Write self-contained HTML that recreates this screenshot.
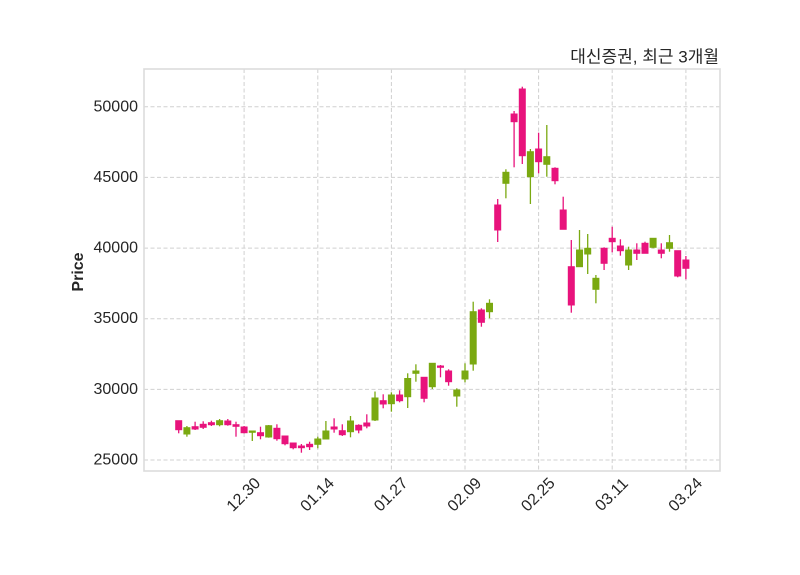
<!DOCTYPE html>
<html><head><meta charset="utf-8"><style>
html,body{margin:0;padding:0;background:#fff;}
svg{display:block;}
.p{fill:#e8137c;stroke:#e8137c;}
.g{fill:#7aa911;stroke:#7aa911;}
.wp{stroke:#e8137c;stroke-width:1.3;}
.wg{stroke:#7aa911;stroke-width:1.3;}
.grid{stroke:#d0d0d0;stroke-width:1;stroke-dasharray:4,2.5;}
text{font-family:"Liberation Sans","Noto Sans CJK KR",sans-serif;fill:#262626;}
</style></head><body>
<svg width="800" height="575" viewBox="0 0 800 575" xmlns="http://www.w3.org/2000/svg">
<rect width="800" height="575" fill="#fff"/>
<g class="grid">
<line x1="144" x2="720" y1="106.8" y2="106.8"/>
<line x1="144" x2="720" y1="177.4" y2="177.4"/>
<line x1="144" x2="720" y1="248.1" y2="248.1"/>
<line x1="144" x2="720" y1="318.7" y2="318.7"/>
<line x1="144" x2="720" y1="389.4" y2="389.4"/>
<line x1="144" x2="720" y1="460" y2="460"/>
<line x1="244.1" x2="244.1" y1="69" y2="471"/>
<line x1="317.8" x2="317.8" y1="69" y2="471"/>
<line x1="391.4" x2="391.4" y1="69" y2="471"/>
<line x1="465" x2="465" y1="69" y2="471"/>
<line x1="538.6" x2="538.6" y1="69" y2="471"/>
<line x1="612.2" x2="612.2" y1="69" y2="471"/>
<line x1="685.9" x2="685.9" y1="69" y2="471"/>
</g>
<rect x="144" y="69" width="576" height="402" fill="none" stroke="#dcdcdc" stroke-width="1.6"/>

<g>
<line class="wp" x1="178.7" x2="178.7" y1="420.7" y2="433.3"/><rect class="p" x="175.7" y="420.7" width="6" height="9"/>
<line class="wg" x1="186.9" x2="186.9" y1="426" y2="436.7"/><rect class="g" x="183.9" y="427.7" width="6" height="6.3"/>
<line class="wp" x1="195.1" x2="195.1" y1="421.7" y2="430"/><rect class="p" x="192.1" y="426.7" width="6" height="2.3"/>
<line class="wp" x1="203.2" x2="203.2" y1="421.3" y2="429"/><rect class="p" x="200.2" y="424.3" width="6" height="3"/>
<line class="wp" x1="211.4" x2="211.4" y1="420.7" y2="426"/><rect class="p" x="208.4" y="422.7" width="6" height="2"/>
<line class="wg" x1="219.6" x2="219.6" y1="419" y2="426.3"/><rect class="g" x="216.6" y="420.7" width="6" height="4"/>
<line class="wp" x1="227.8" x2="227.8" y1="419" y2="425.7"/><rect class="p" x="224.8" y="421" width="6" height="3.7"/>
<line class="wp" x1="236" x2="236" y1="421.7" y2="436.7"/><rect class="p" x="233" y="424.7" width="6" height="1.6"/>
<line class="wp" x1="244.1" x2="244.1" y1="426" y2="433.3"/><rect class="p" x="241.1" y="427" width="6" height="5.7"/>
<line class="wg" x1="252.3" x2="252.3" y1="431" y2="441"/><rect class="g" x="249.3" y="431" width="6" height="1.3"/>
<line class="wp" x1="260.5" x2="260.5" y1="426.7" y2="439.3"/><rect class="p" x="257.5" y="432.7" width="6" height="3"/>
<line class="wg" x1="268.7" x2="268.7" y1="425" y2="437.7"/><rect class="g" x="265.7" y="425.7" width="6" height="11.3"/>
<line class="wp" x1="276.9" x2="276.9" y1="424.3" y2="440.7"/><rect class="p" x="273.9" y="428.3" width="6" height="10.4"/>
<line class="wp" x1="285" x2="285" y1="436" y2="445.3"/><rect class="p" x="282" y="436" width="6" height="7.7"/>
<line class="wp" x1="293.2" x2="293.2" y1="443" y2="449.3"/><rect class="p" x="290.2" y="443" width="6" height="4.7"/>
<line class="wp" x1="301.4" x2="301.4" y1="444" y2="452.7"/><rect class="p" x="298.4" y="446" width="6" height="1.7"/>
<line class="wp" x1="309.6" x2="309.6" y1="441.7" y2="450"/><rect class="p" x="306.6" y="444.3" width="6" height="2.4"/>
<line class="wg" x1="317.8" x2="317.8" y1="436.7" y2="448.3"/><rect class="g" x="314.8" y="439" width="6" height="5.3"/>
<line class="wg" x1="325.9" x2="325.9" y1="421" y2="439"/><rect class="g" x="322.9" y="431" width="6" height="8"/>
<line class="wp" x1="334.1" x2="334.1" y1="418.3" y2="432.7"/><rect class="p" x="331.1" y="427" width="6" height="2"/>
<line class="wp" x1="342.3" x2="342.3" y1="424.3" y2="436"/><rect class="p" x="339.3" y="430.7" width="6" height="4"/>
<line class="wg" x1="350.5" x2="350.5" y1="416" y2="437.3"/><rect class="g" x="347.5" y="421" width="6" height="10.7"/>
<line class="wp" x1="358.7" x2="358.7" y1="424.3" y2="433.3"/><rect class="p" x="355.7" y="425.3" width="6" height="4.7"/>
<line class="wp" x1="366.8" x2="366.8" y1="414.3" y2="428.3"/><rect class="p" x="363.8" y="423" width="6" height="3"/>
<line class="wg" x1="375" x2="375" y1="391.5" y2="421"/><rect class="g" x="372" y="398" width="6" height="22"/>
<line class="wp" x1="383.2" x2="383.2" y1="394.3" y2="408.3"/><rect class="p" x="380.2" y="400.7" width="6" height="3.3"/>
<line class="wg" x1="391.4" x2="391.4" y1="392.3" y2="411.7"/><rect class="g" x="388.4" y="395" width="6" height="8.7"/>
<line class="wp" x1="399.6" x2="399.6" y1="390.3" y2="402.3"/><rect class="p" x="396.6" y="395" width="6" height="5.7"/>
<line class="wg" x1="407.7" x2="407.7" y1="373.3" y2="408"/><rect class="g" x="404.7" y="378.5" width="6" height="18.2"/>
<line class="wg" x1="415.9" x2="415.9" y1="364.3" y2="381.7"/><rect class="g" x="412.9" y="371" width="6" height="2.3"/>
<line class="wp" x1="424.1" x2="424.1" y1="377.3" y2="402.3"/><rect class="p" x="421.1" y="377.3" width="6" height="21"/>
<line class="wg" x1="432.3" x2="432.3" y1="363.3" y2="389"/><rect class="g" x="429.3" y="363.3" width="6" height="23.4"/>
<line class="wp" x1="440.5" x2="440.5" y1="365" y2="377.3"/><rect class="p" x="437.5" y="366" width="6" height="1.3"/>
<line class="wp" x1="448.6" x2="448.6" y1="369.3" y2="385.7"/><rect class="p" x="445.6" y="371" width="6" height="10.7"/>
<line class="wg" x1="456.8" x2="456.8" y1="388.3" y2="406.7"/><rect class="g" x="453.8" y="390" width="6" height="6"/>
<line class="wg" x1="465" x2="465" y1="363.3" y2="382.3"/><rect class="g" x="462" y="371" width="6" height="8"/>
<line class="wg" x1="473.2" x2="473.2" y1="301.7" y2="370.7"/><rect class="g" x="470.2" y="311.7" width="6" height="52.3"/>
<line class="wp" x1="481.4" x2="481.4" y1="308.3" y2="326.7"/><rect class="p" x="478.4" y="310" width="6" height="12.3"/>
<line class="wg" x1="489.5" x2="489.5" y1="299.3" y2="318.3"/><rect class="g" x="486.5" y="303.3" width="6" height="8.4"/>
<line class="wp" x1="497.7" x2="497.7" y1="199" y2="242"/><rect class="p" x="494.7" y="205" width="6" height="25"/>
<line class="wg" x1="505.9" x2="505.9" y1="169.3" y2="198.3"/><rect class="g" x="502.9" y="172.3" width="6" height="11"/>
<line class="wp" x1="514.1" x2="514.1" y1="111" y2="167.3"/><rect class="p" x="511.1" y="114" width="6" height="7.7"/>
<line class="wp" x1="522.3" x2="522.3" y1="86.7" y2="164"/><rect class="p" x="519.3" y="89" width="6" height="66.7"/>
<line class="wg" x1="530.4" x2="530.4" y1="149" y2="204"/><rect class="g" x="527.4" y="151.7" width="6" height="25"/>
<line class="wp" x1="538.6" x2="538.6" y1="132.7" y2="173.3"/><rect class="p" x="535.6" y="149" width="6" height="12.7"/>
<line class="wg" x1="546.8" x2="546.8" y1="125" y2="176.7"/><rect class="g" x="543.8" y="156.7" width="6" height="7.6"/>
<line class="wp" x1="555" x2="555" y1="167.3" y2="184.3"/><rect class="p" x="552" y="168.3" width="6" height="12.4"/>
<line class="wp" x1="563.2" x2="563.2" y1="196.7" y2="229.3"/><rect class="p" x="560.2" y="210" width="6" height="19.3"/>
<line class="wp" x1="571.3" x2="571.3" y1="240" y2="312.7"/><rect class="p" x="568.3" y="266.7" width="6" height="38.3"/>
<line class="wg" x1="579.5" x2="579.5" y1="230" y2="266.7"/><rect class="g" x="576.5" y="250" width="6" height="16.7"/>
<line class="wg" x1="587.7" x2="587.7" y1="234" y2="274"/><rect class="g" x="584.7" y="248.3" width="6" height="5.7"/>
<line class="wg" x1="595.9" x2="595.9" y1="275" y2="303.3"/><rect class="g" x="592.9" y="278.3" width="6" height="11"/>
<line class="wp" x1="604.1" x2="604.1" y1="247.3" y2="270"/><rect class="p" x="601.1" y="248.3" width="6" height="15"/>
<line class="wp" x1="612.2" x2="612.2" y1="226.7" y2="252.3"/><rect class="p" x="609.2" y="238.3" width="6" height="3.4"/>
<line class="wp" x1="620.4" x2="620.4" y1="239.3" y2="255.7"/><rect class="p" x="617.4" y="246" width="6" height="4.7"/>
<line class="wg" x1="628.6" x2="628.6" y1="246.7" y2="270"/><rect class="g" x="625.6" y="250" width="6" height="15"/>
<line class="wp" x1="636.8" x2="636.8" y1="243.3" y2="260"/><rect class="p" x="633.8" y="250" width="6" height="3.3"/>
<line class="wp" x1="645" x2="645" y1="241.7" y2="253.3"/><rect class="p" x="642" y="243.3" width="6" height="10"/>
<line class="wg" x1="653.1" x2="653.1" y1="238.3" y2="248.3"/><rect class="g" x="650.1" y="238.3" width="6" height="9"/>
<line class="wp" x1="661.3" x2="661.3" y1="243.3" y2="258.3"/><rect class="p" x="658.3" y="250" width="6" height="3.3"/>
<line class="wg" x1="669.5" x2="669.5" y1="235" y2="251.7"/><rect class="g" x="666.5" y="242.7" width="6" height="5.6"/>
<line class="wp" x1="677.7" x2="677.7" y1="250.7" y2="277.3"/><rect class="p" x="674.7" y="250.7" width="6" height="25.3"/>
<line class="wp" x1="685.9" x2="685.9" y1="256" y2="279.3"/><rect class="p" x="682.9" y="260" width="6" height="8.3"/>
</g>

<g font-size="16" text-anchor="end" dominant-baseline="central">
<text x="138" y="106.8">50000</text>
<text x="138" y="177.4">45000</text>
<text x="138" y="248.1">40000</text>
<text x="138" y="318.7">35000</text>
<text x="138" y="389.4">30000</text>
<text x="138" y="460">25000</text>
</g>

<g font-size="16" text-anchor="middle" dominant-baseline="central">
<text transform="translate(244,495) rotate(-45)">12.30</text>
<text transform="translate(317.7,495) rotate(-45)">01.14</text>
<text transform="translate(391.3,495) rotate(-45)">01.27</text>
<text transform="translate(464.9,495) rotate(-45)">02.09</text>
<text transform="translate(538.5,495) rotate(-45)">02.25</text>
<text transform="translate(612.1,495) rotate(-45)">03.11</text>
<text transform="translate(685.8,495) rotate(-45)">03.24</text>
</g>

<text transform="translate(78.5,272) rotate(-90)" font-size="16" font-weight="bold" text-anchor="middle" dominant-baseline="central">Price</text>

<text x="719" y="62.5" font-size="17" text-anchor="end">대신증권, 최근 3개월</text>
</svg>
</body></html>
